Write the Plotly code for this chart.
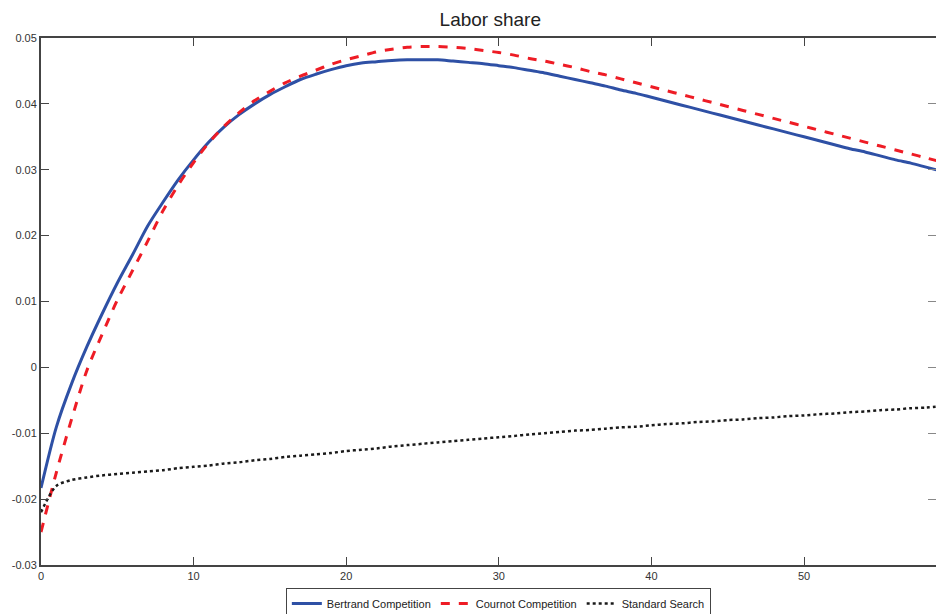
import plotly.graph_objects as go

periods = list(range(60))

bertrand = [-0.0183, -0.0091, -0.0025, 0.0031, 0.0081, 0.0128, 0.0171, 0.0215, 0.0251, 0.0285,
            0.0315, 0.0342, 0.0365, 0.0384, 0.0400, 0.0414, 0.0426, 0.0437, 0.0445, 0.0452,
            0.0458, 0.0462, 0.0464, 0.0466, 0.0467, 0.0467, 0.0467, 0.0465, 0.0463, 0.0461,
            0.0458, 0.0455, 0.0451, 0.0447, 0.0442, 0.0437, 0.0432, 0.0427, 0.0421, 0.0416,
            0.0410, 0.0404, 0.0398, 0.0392, 0.0386, 0.0380, 0.0374, 0.0368, 0.0362, 0.0356,
            0.0350, 0.0344, 0.0338, 0.0332, 0.0327, 0.0321, 0.0315, 0.0310, 0.0304, 0.0298]

cournot = [-0.0250, -0.0160, -0.0079, -0.0005, 0.0050, 0.0102, 0.0147, 0.0192, 0.0238, 0.0277,
           0.0311, 0.0341, 0.0366, 0.0387, 0.0405, 0.0419, 0.0432, 0.0442, 0.0451, 0.0460,
           0.0467, 0.0473, 0.0479, 0.0483, 0.0486, 0.0487, 0.0487, 0.0486, 0.0484, 0.0481,
           0.0478, 0.0474, 0.0469, 0.0465, 0.0460, 0.0455, 0.0449, 0.0444, 0.0438, 0.0432,
           0.0426, 0.0420, 0.0414, 0.0408, 0.0402, 0.0396, 0.0390, 0.0384, 0.0378, 0.0372,
           0.0366, 0.0360, 0.0354, 0.0348, 0.0342, 0.0336, 0.0330, 0.0324, 0.0318, 0.0312]

standard = [-0.0220, -0.0180, -0.0171, -0.0167, -0.0164, -0.0162, -0.0160, -0.0158, -0.0156, -0.0153,
            -0.0151, -0.0149, -0.0146, -0.0144, -0.0141, -0.0139, -0.0136, -0.0134, -0.0132, -0.0130,
            -0.0127, -0.0125, -0.0123, -0.0120, -0.0118, -0.0116, -0.0114, -0.0112, -0.0110, -0.0108,
            -0.0106, -0.0104, -0.0102, -0.0100, -0.0098, -0.0096, -0.0095, -0.0093, -0.0091, -0.0090,
            -0.0088, -0.0086, -0.0085, -0.0083, -0.0082, -0.0080, -0.0079, -0.0077, -0.0076, -0.0074,
            -0.0073, -0.0071, -0.0070, -0.0068, -0.0067, -0.0065, -0.0064, -0.0062, -0.0061, -0.0059]

x_ticks = [0, 10, 20, 30, 40, 50]
y_ticks = [-0.03, -0.02, -0.01, 0, 0.01, 0.02, 0.03, 0.04, 0.05]
y_tick_labels = ["-0.03", "-0.02", "-0.01", "0", "0.01", "0.02", "0.03", "0.04", "0.05"]

fig = go.Figure()
fig.add_trace(go.Scatter(x=periods, y=bertrand, mode="lines", name="Bertrand Competition",
                         line=dict(color="#2E50A5", width=3, shape="spline", smoothing=0.8)))
fig.add_trace(go.Scatter(x=periods, y=cournot, mode="lines", name="Cournot Competition",
                         line=dict(color="#EE1C25", width=3, dash="dash", shape="spline", smoothing=0.8)))
fig.add_trace(go.Scatter(x=periods, y=standard, mode="lines", name="Standard Search",
                         line=dict(color="#1A1A1A", width=2.5, dash="dot", shape="spline", smoothing=0.8)))
fig.add_trace(go.Scatter(x=periods, y=standard, mode="lines", yaxis="y2", showlegend=False,
                         hoverinfo="skip", line=dict(color="rgba(0,0,0,0)", width=0)))

axis_font = dict(family="Liberation Sans, Arial, sans-serif", size=11, color="#333333")

fig.update_layout(
    width=936, height=614,
    margin=dict(l=41, r=0, t=38, b=49),
    paper_bgcolor="white", plot_bgcolor="white",
    title=dict(text="Labor share", xref="paper", x=0.502, xanchor="center",
               yref="container", y=0.969, yanchor="middle",
               font=dict(family="Liberation Sans, Arial, sans-serif", size=19, color="#222222")),
    xaxis=dict(range=[0, 58.65], tickvals=x_ticks, ticks="inside", ticklen=8, tickwidth=1,
               tickcolor="#444444", showline=True, linecolor="#444444", linewidth=2,
               mirror="ticks", showgrid=False, zeroline=False, tickfont=axis_font,
               automargin=False),
    yaxis=dict(range=[-0.03, 0.05], tickvals=y_ticks, ticktext=y_tick_labels, ticks="inside",
               ticklen=8, tickwidth=1, tickcolor="#444444", showline=True, linecolor="#444444",
               linewidth=2, showgrid=False, zeroline=False, tickfont=axis_font,
               automargin=False),
    yaxis2=dict(range=[-0.03, 0.05], overlaying="y", side="right", tickvals=y_ticks,
                ticks="inside", ticklen=8, tickwidth=1, tickcolor="#888888",
                showticklabels=False, showline=False, showgrid=False, zeroline=False,
                automargin=False),
    legend=dict(orientation="h", x=0.511, xanchor="center", yref="container", y=0.0423,
                yanchor="top", bordercolor="#444444", borderwidth=1, bgcolor="white",
                font=dict(family="Liberation Sans, Arial, sans-serif", size=11, color="#222222"),
                itemwidth=30, tracegroupgap=0),
)

fig.write_html("out.html", config={"displayModeBar": False},
               post_script="document.body.style.margin='0';document.body.style.overflow='hidden';")
